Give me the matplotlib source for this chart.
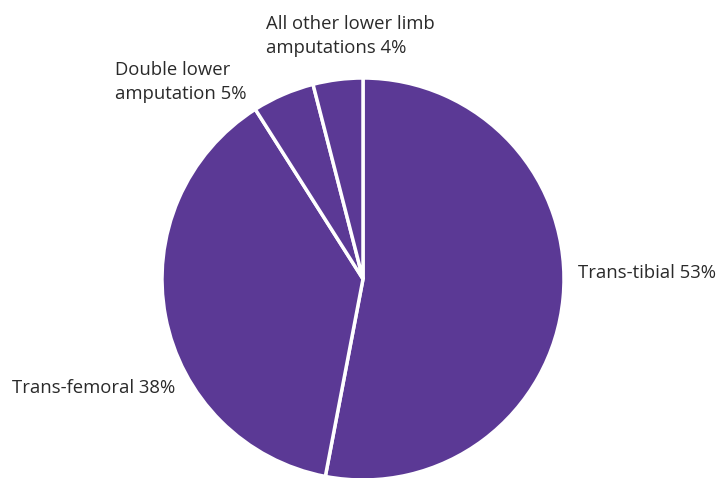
import matplotlib
matplotlib.use("Agg")
import matplotlib.pyplot as plt

categories = ["Trans-tibial", "Trans-femoral", "Double lower\namputation", "All other lower limb\namputations"]
values = [53, 38, 5, 4]

W, H = 725, 478
fig = plt.figure(figsize=(W / 100, H / 100), dpi=100)
ax = fig.add_axes([0, 0, 1, 1])

purple = "#5b3995"
cx, cy, r = 363, H - 279, 201
ax.pie(values, startangle=90, counterclock=False, center=(cx, cy), radius=r,
       colors=[purple] * len(values),
       wedgeprops=dict(edgecolor="white", linewidth=2.5), frame=True)
ax.set_xlim(0, W)
ax.set_ylim(0, H)
ax.set_aspect("equal")
ax.axis("off")

label_pos = [(578, 273), (12, 388), (115, 82), (266, 36)]
for cat, v, (x, y) in zip(categories, values, label_pos):
    ax.text(x, H - y, f"{cat} {v}%", ha="left", va="center", fontsize=13.3,
            family="Open Sans", color="#2a2a2a", linespacing=1.45)

fig.savefig("out.png", dpi=100)
